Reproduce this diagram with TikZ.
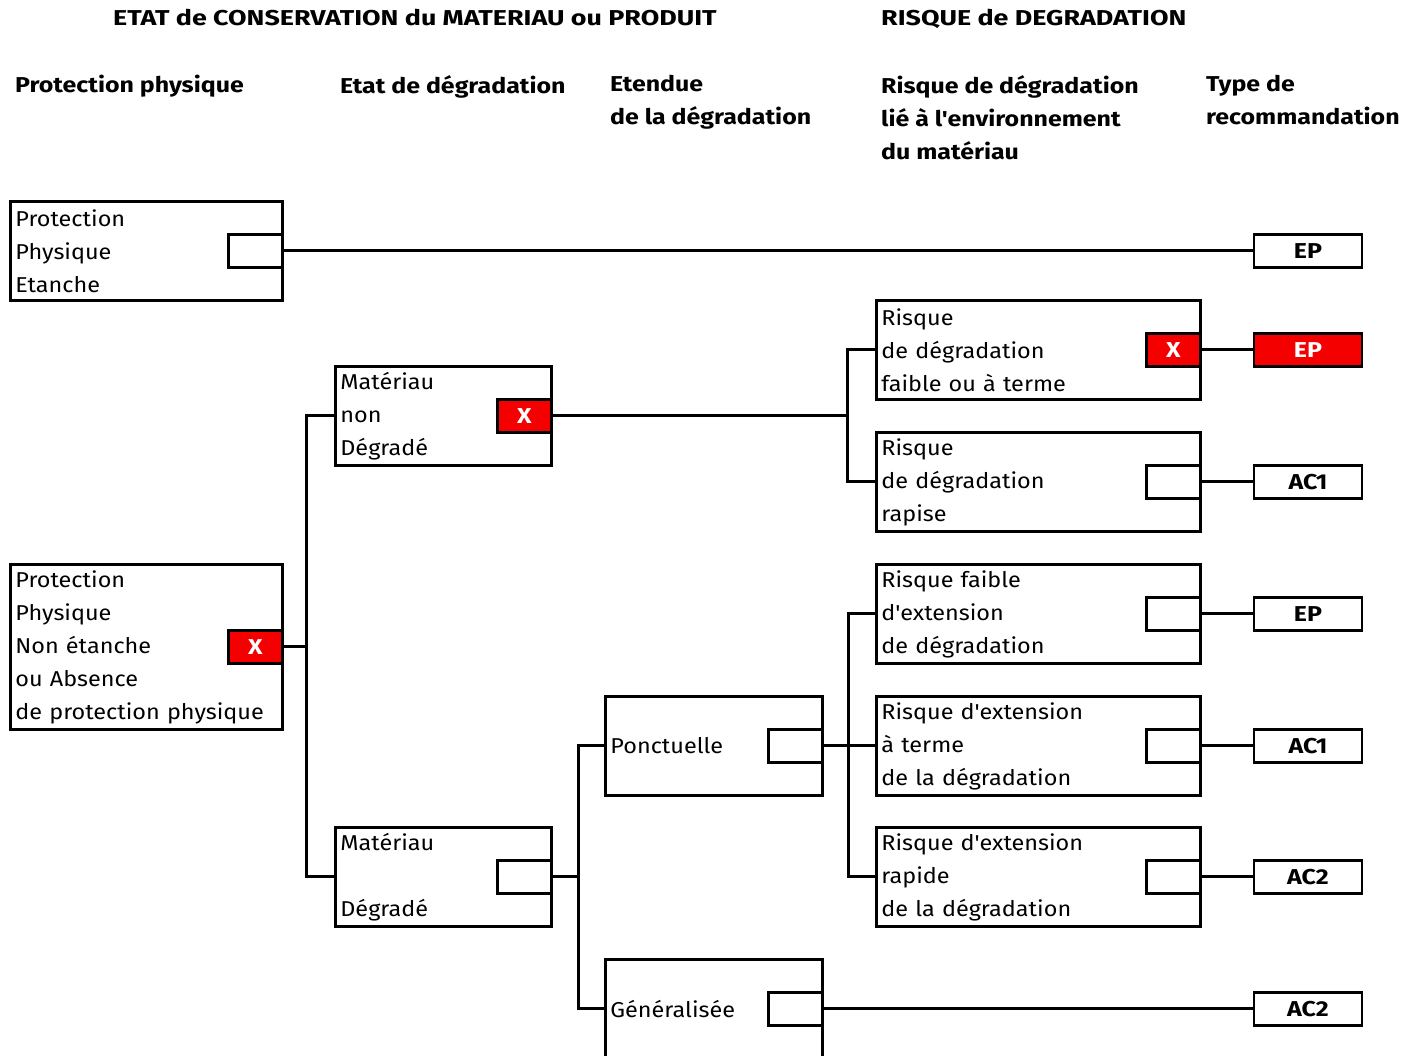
\documentclass[tikz,border=0pt]{standalone}
\usepackage{fontspec}
\setmainfont{Fira Sans}[Ligatures=TeXOff, FakeStretch=1.09,
  BoldFeatures={FakeStretch=1.16}]
\newfontfamily\titlefont{Fira Sans}[Ligatures=TeXOff,
  BoldFeatures={FakeStretch=1.25}]
\usepackage{xcolor}
\usetikzlibrary{positioning,calc}
\definecolor{ink}{RGB}{0,0,0}
\definecolor{markred}{RGB}{245,0,0}
\newcommand{\boxfont}{\fontsize{21.5}{33}\selectfont}

\begin{document}
\begin{tikzpicture}[x=1pt, y=-1pt,
  box/.style={draw=ink, line width=2.8pt, anchor=north west, align=left,
    inner xsep=5pt, inner ysep=0pt, minimum height=99pt, font=\boxfont},
  tick/.style={draw=ink, line width=2.8pt, anchor=east, fill=white,
    minimum width=54pt, minimum height=33pt, inner sep=0pt},
  ticked/.style={tick, fill=markred, text=white, font=\boxfont\bfseries},
  rec/.style={draw=ink, line width=2.8pt, minimum width=108pt,
    minimum height=33pt, inner sep=0pt, font=\boxfont\bfseries},
  head/.style={anchor=north west, align=left, inner sep=0pt, font=\boxfont\bfseries},
  title/.style={head, font=\boxfont\titlefont\bfseries},
  wire/.style={draw=ink, line width=3pt}
]
\useasboundingbox (0,0) rectangle (1416,1055);

% titres
\node[title] (titleEtat) at (113,9) {ETAT de CONSERVATION du MATERIAU ou PRODUIT};
\node[title] (titleRisk) at (881,9) {RISQUE de DEGRADATION};
\node[head] (colProt) at (15,75) {Protection physique};
\node[head] (colEtat) at (340,75) {Etat de dégradation};
\node[head] (colEtend) at (610,75) {Etendue\\de la dégradation};
\node[head] (colEnv) at (881,75) {Risque de dégradation\\lié à l'environnement\\du matériau};
\node[head] (colType) at (1206,75) {Type de\\recommandation};

% protection physique
\node[box, text width=262pt] (ppe) at (9,200) {Protection\\Physique\\Etanche};
\node[tick] (ppeChk) at (ppe.east) {};
\node[box, text width=262pt, minimum height=165pt] (ppne) at (9,563)
  {Protection\\Physique\\Non étanche\\ou Absence\\de protection physique};
\node[ticked] (ppneChk) at (ppne.east) {X};

% etat de degradation
\node[box, text width=206pt] (nonDeg) at (334,365) {Matériau\\non\\Dégradé};
\node[ticked] (nonDegChk) at (nonDeg.east) {X};
\node[box, text width=206pt] (deg) at (334,826) {Matériau\\\mbox{}\\Dégradé};
\node[tick] (degChk) at (deg.east) {};

% etendue
\node[box, text width=207pt] (ponct) at (604,695) {Ponctuelle};
\node[tick] (ponctChk) at (ponct.east) {};
\node[box, text width=207pt] (gen) at (604,958) {Généralisée};
\node[tick] (genChk) at (gen.east) {};

% risque lie a l'environnement
\node[box, text width=314pt] (riskLow) at (875,299) {Risque\\de dégradation\\faible ou à terme};
\node[ticked] (riskLowChk) at (riskLow.east) {X};
\node[box, text width=314pt] (riskFast) at (875,431) {Risque\\de dégradation\\rapise};
\node[tick] (riskFastChk) at (riskFast.east) {};
\node[box, text width=314pt] (extLow) at (875,563) {Risque faible\\d'extension\\de dégradation};
\node[tick] (extLowChk) at (extLow.east) {};
\node[box, text width=314pt] (extTerm) at (875,695) {Risque d'extension\\à terme\\de la dégradation};
\node[tick] (extTermChk) at (extTerm.east) {};
\node[box, text width=314pt] (extFast) at (875,826) {Risque d'extension\\rapide\\de la dégradation};
\node[tick] (extFastChk) at (extFast.east) {};

% recommandations
\coordinate (recCol) at (1308,0);
\node[rec] (recPpe) at (ppeChk -| recCol) {EP};
\node[rec, fill=markred, text=white] (recLow) at (riskLowChk -| recCol) {EP};
\node[rec] (recFast) at (riskFastChk -| recCol) {AC1};
\node[rec] (recExtLow) at (extLowChk -| recCol) {EP};
\node[rec] (recExtTerm) at (extTermChk -| recCol) {AC1};
\node[rec] (recExtFast) at (extFastChk -| recCol) {AC2};
\node[rec] (recGen) at (genChk -| recCol) {AC2};

% liaisons
\draw[wire] (ppeChk.east) -- (recPpe.west);
\draw[wire] (ppneChk.east) -- ([xshift=-28pt]ppneChk.east -| nonDeg.west);
\draw[wire] (nonDeg.west) -- ++(-28,0) |- (deg.west);
\draw[wire] (nonDegChk.east) -- ([xshift=-28pt]nonDegChk.east -| riskLow.west);
\draw[wire] (riskLow.west) -- ++(-28,0) |- (riskFast.west);
\draw[wire] (degChk.east) -- ([xshift=-26pt]degChk.east -| ponct.west);
\draw[wire] (ponct.west) -- ++(-26,0) |- (gen.west);
\draw[wire] (ponctChk.east) -- (extTerm.west);
\draw[wire] (extLow.west) -- ++(-27,0) |- (extFast.west);
\draw[wire] (riskLowChk.east) -- (recLow.west);
\draw[wire] (riskFastChk.east) -- (recFast.west);
\draw[wire] (extLowChk.east) -- (recExtLow.west);
\draw[wire] (extTermChk.east) -- (recExtTerm.west);
\draw[wire] (extFastChk.east) -- (recExtFast.west);
\draw[wire] (genChk.east) -- (recGen.west);

\end{tikzpicture}
\end{document}
